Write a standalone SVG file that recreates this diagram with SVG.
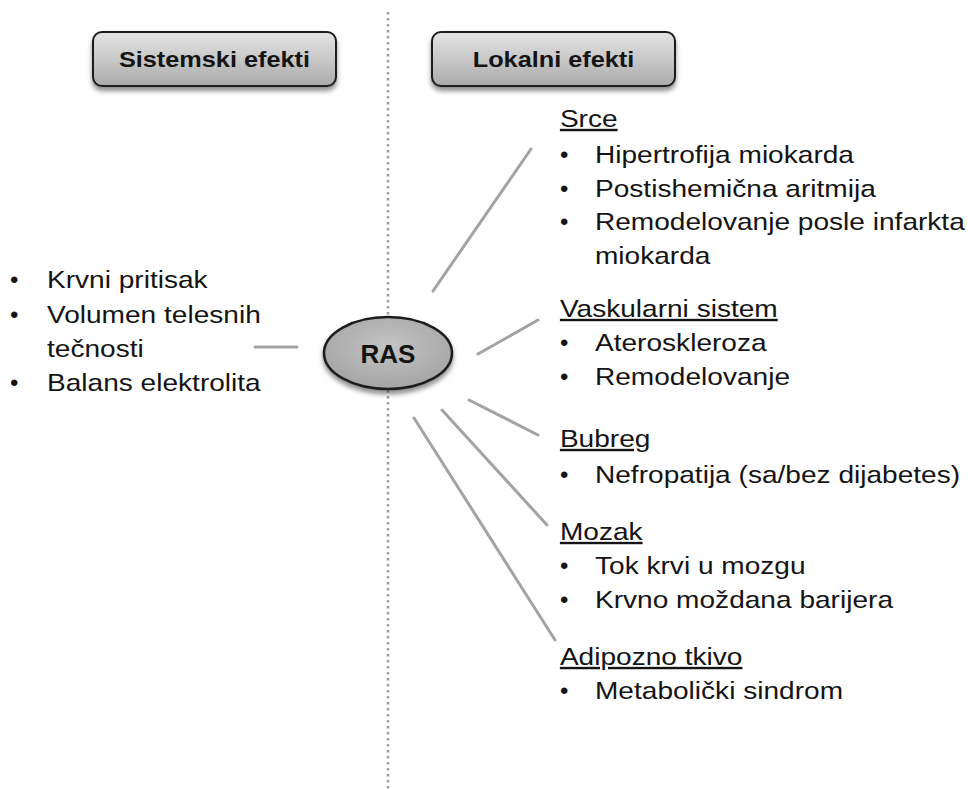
<svg xmlns="http://www.w3.org/2000/svg" width="968" height="789" viewBox="0 0 968 789">
<defs>
<linearGradient id="boxg" x1="0" y1="0" x2="0" y2="1">
<stop offset="0" stop-color="#e4e4e4"/>
<stop offset="0.5" stop-color="#c8c8c8"/>
<stop offset="1" stop-color="#a9a9a9"/>
</linearGradient>
<radialGradient id="ellg" cx="0.5" cy="0.4" r="0.6">
<stop offset="0" stop-color="#c4c4c4"/>
<stop offset="1" stop-color="#a4a4a4"/>
</radialGradient>
<filter id="sh" x="-10%" y="-20%" width="120%" height="160%">
<feGaussianBlur in="SourceAlpha" stdDeviation="2.5"/>
<feOffset dx="0" dy="4" result="b"/>
<feComponentTransfer><feFuncA type="linear" slope="0.45"/></feComponentTransfer>
<feMerge><feMergeNode/><feMergeNode in="SourceGraphic"/></feMerge>
</filter>
</defs>
<style>
.t{font-family:"Liberation Sans",Arial,sans-serif;font-size:24px;fill:#141414}
.u{text-decoration:underline}
.h{font-family:"Liberation Sans",Arial,sans-serif;font-size:22px;font-weight:bold;fill:#141414;text-anchor:middle}
.box{fill:url(#boxg);stroke:#1e1e1e;stroke-width:2}
.con{stroke:#a3a3a3;stroke-width:3;stroke-linecap:round;fill:none}
</style>
<rect width="968" height="789" fill="#ffffff"/>
<line x1="388" y1="12" x2="388" y2="789" stroke="#a0a0a0" stroke-width="2.5" stroke-dasharray="2.5 3.5"/>
<g id="connectors">
<line class="con" x1="255" y1="347" x2="297" y2="347"/>
<line class="con" x1="433" y1="291" x2="531" y2="149"/>
<line class="con" x1="478" y1="354" x2="538" y2="320"/>
<line class="con" x1="469" y1="400" x2="538" y2="435"/>
<line class="con" x1="442" y1="410" x2="547" y2="525"/>
<line class="con" x1="414" y1="418" x2="555" y2="640"/>
</g>
<g id="sistemski">
<rect class="box" x="93" y="32" width="243" height="54" rx="9" filter="url(#sh)"/>
<text class="h" x="214.5" y="67" transform="matrix(1.15,0,0,1,-32.2,0)">Sistemski efekti</text>
</g>
<g id="lokalni">
<rect class="box" x="432" y="32" width="243" height="54" rx="9" filter="url(#sh)"/>
<text class="h" x="553.5" y="67" transform="matrix(1.15,0,0,1,-83,0)">Lokalni efekti</text>
</g>
<g id="ras">
<ellipse cx="388" cy="353" rx="64" ry="36" fill="url(#ellg)" stroke="#1e1e1e" stroke-width="2.5" filter="url(#sh)"/>
<text x="388" y="363" font-family="Liberation Sans, Arial, sans-serif" font-size="26" font-weight="bold" fill="#141414" text-anchor="middle">RAS</text>
</g>
<g id="sistemski-list">
<text class="t" x="10" y="288">•</text>
<text class="t" x="10" y="323">•</text>
<text class="t" x="10" y="391">•</text>
<g transform="matrix(1.17,0,0,1,-8,0)">
<text class="t" x="47" y="288">Krvni pritisak</text>
<text class="t" x="47" y="323">Volumen telesnih</text>
<text class="t" x="47" y="357">tečnosti</text>
<text class="t" x="47" y="391">Balans elektrolita</text>
</g>
</g>
<g id="srce">
<text class="t" x="560" y="163">•</text>
<text class="t" x="560" y="197">•</text>
<text class="t" x="560" y="230">•</text>
<g transform="matrix(1.17,0,0,1,-101.15,0)">
<text class="t u" x="565" y="127">Srce</text>
<text class="t" x="595" y="163">Hipertrofija miokarda</text>
<text class="t" x="595" y="197">Postishemična aritmija</text>
<text class="t" x="595" y="230">Remodelovanje posle infarkta</text>
<text class="t" x="595" y="264">miokarda</text>
</g>
</g>
<g id="vaskularni">
<text class="t" x="560" y="351">•</text>
<text class="t" x="560" y="385">•</text>
<g transform="matrix(1.17,0,0,1,-101.15,0)">
<text class="t u" x="565" y="317">Vaskularni sistem</text>
<text class="t" x="595" y="351">Ateroskleroza</text>
<text class="t" x="595" y="385">Remodelovanje</text>
</g>
</g>
<g id="bubreg">
<text class="t" x="560" y="483">•</text>
<g transform="matrix(1.17,0,0,1,-101.15,0)">
<text class="t u" x="565" y="447">Bubreg</text>
<text class="t" x="595" y="483">Nefropatija (sa/bez dijabetes)</text>
</g>
</g>
<g id="mozak">
<text class="t" x="560" y="574">•</text>
<text class="t" x="560" y="608">•</text>
<g transform="matrix(1.17,0,0,1,-101.15,0)">
<text class="t u" x="565" y="540">Mozak</text>
<text class="t" x="595" y="574">Tok krvi u mozgu</text>
<text class="t" x="595" y="608">Krvno moždana barijera</text>
</g>
</g>
<g id="adipozno">
<text class="t" x="560" y="699">•</text>
<g transform="matrix(1.17,0,0,1,-101.15,0)">
<text class="t u" x="565" y="665">Adipozno tkivo</text>
<text class="t" x="595" y="699">Metabolički sindrom</text>
</g>
</g>
</svg>
